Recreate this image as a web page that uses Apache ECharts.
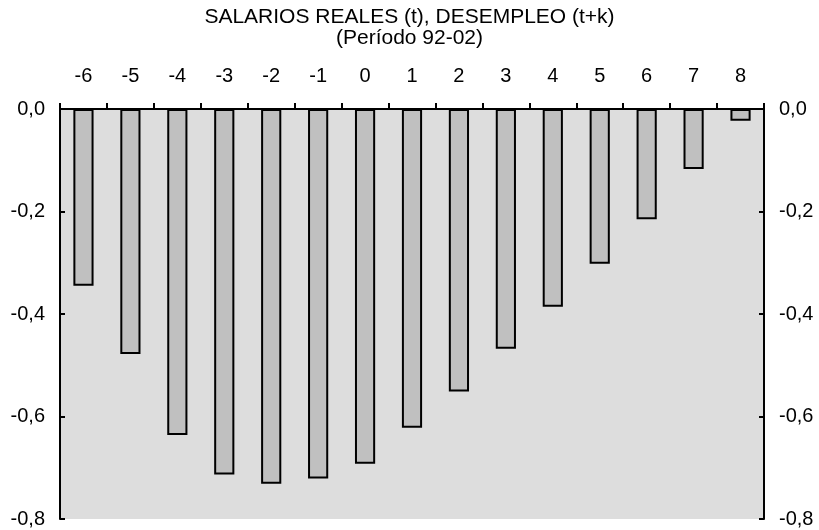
<!DOCTYPE html>
<html>
<head>
<meta charset="utf-8" />
<title>Salarios reales, desempleo</title>
<style>
    html, body { margin: 0; padding: 0; background: #fff; }
    #chart { width: 819px; height: 530px; }
</style>
<script src="https://cdn.jsdelivr.net/npm/echarts@6/dist/echarts.min.js"></script>
</head>
<body>
<div id="chart"></div>
<script>
// rezagos k
var lags = ['-6', '-5', '-4', '-3', '-2', '-1', '0', '1', '2', '3', '4', '5', '6', '7', '8'];
// correlacion salarios reales (t) vs desempleo (t+k)
var corr = [-0.345, -0.478, -0.636, -0.713, -0.731, -0.721, -0.692, -0.622, -0.551, -0.468, -0.386, -0.302, -0.215, -0.117, -0.023];

var FONT = '"Liberation Sans", Arial, sans-serif';

function fmt(v) {
    return v.toFixed(1).replace('.', ',');
}

var yCommon = {
    type: 'value',
    min: -0.8,
    max: 0,
    interval: 0.2,
    axisLine: { show: true, lineStyle: { color: '#000', width: 2 } },
    axisTick: { show: true, inside: true, length: 5, lineStyle: { color: '#000', width: 2 } },
    splitLine: { show: false },
    axisLabel: { color: '#000', fontSize: 20, fontFamily: FONT, margin: 15, formatter: fmt }
};

var option = {
    animation: false,
    title: {
        text: 'SALARIOS REALES (t), DESEMPLEO (t+k)\n(Período 92-02)',
        left: 'center',
        top: 7,
        padding: 0,
        textStyle: { color: '#000', fontSize: 21, fontWeight: 'normal', fontFamily: FONT, lineHeight: 21 }
    },
    grid: {
        left: 60,
        right: 55,
        top: 109,
        bottom: 11,
        show: true,
        backgroundColor: '#dddddd',
        borderWidth: 0
    },
    xAxis: {
        type: 'category',
        position: 'top',
        data: lags,
        axisLine: { show: true, lineStyle: { color: '#000', width: 2 } },
        axisTick: { show: true, length: 6, lineStyle: { color: '#000', width: 2 } },
        axisLabel: { color: '#000', fontSize: 20, fontFamily: FONT, margin: 23 }
    },
    yAxis: [
        Object.assign({}, yCommon, { position: 'left' }),
        Object.assign({}, yCommon, { position: 'right' })
    ],
    series: [{
        type: 'bar',
        data: corr,
        barWidth: '43%',
        itemStyle: { color: '#c0c0c0', borderColor: '#000', borderWidth: 2 }
    }]
};

var chart = echarts.init(document.getElementById('chart'));
chart.setOption(option);
</script>
</body>
</html>
